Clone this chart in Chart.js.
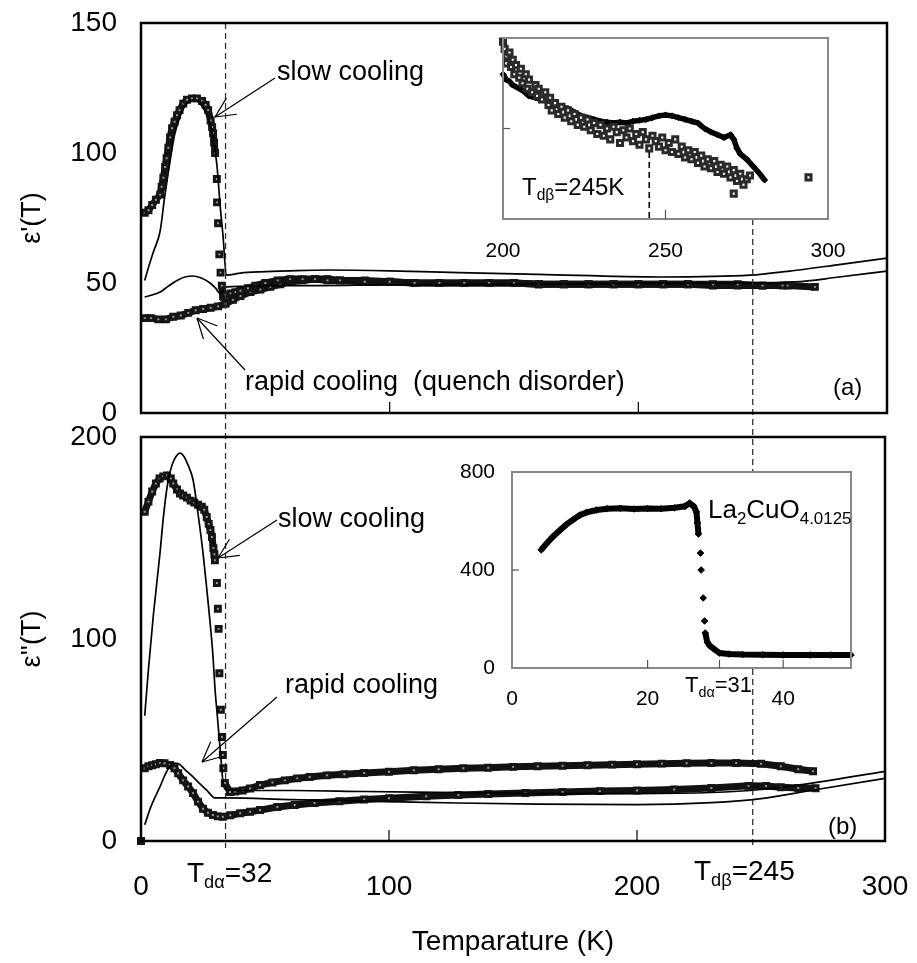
<!DOCTYPE html>
<html>
<head>
<meta charset="utf-8">
<title>eps vs T</title>
<script src="https://cdn.jsdelivr.net/npm/chart.js@4.4.1/dist/chart.umd.min.js"></script>
<style>
body { margin: 0; background: #fff; }
#wrap { position: relative; width: 917px; height: 963px; }
#wrap canvas { position: absolute; left: 0; top: 0; }
</style>
</head>
<body>
<div id="wrap">
<canvas id="mainA" width="917" height="963"></canvas>
<canvas id="mainB" width="917" height="963"></canvas>
<canvas id="insetA" width="917" height="963"></canvas>
<canvas id="insetB" width="917" height="963"></canvas>
</div>
<script>
// data, [T (K), value]

const FONT = "'Liberation Sans', Arial, Helvetica, sans-serif";

// transition markers (dashed lines)
const dashT = [34, 246];

// panel (a) eps'(T)
const slowA = [[1.5,77],[3,78],[4.5,80],[6,82],[7.7,84],[8.3,87],[9,90.5],[9.7,94.6],[10.3,98],[11,102],[11.7,106],[12.5,109.5],[13.5,112],[14.5,114.5],[15.5,116.5],[17,119],[18.5,120.5],[20.5,121],[22.5,121],[24.6,120],[26,118.5],[27,116.5],[28,112.5],[28.6,110],[29,107.6],[29.4,104],[29.8,100],[30.5,90],[30.6,81],[31,73],[31.5,61],[32,54],[32.5,49],[33,45],[34,45.5],[36,46],[38,46.5],[40,47],[43,48],[46,49],[50,50],[55,51],[60,51.5],[65,51.5],[70,51.5],[75,51],[80,51],[90,50.5],[100,50.5],[110,50],[120,50],[130,50],[140,50],[150,50],[160,49.5],[170,49.5],[180,49.5],[190,49.5],[200,49.5],[210,49.5],[220,49.5],[230,49.5],[240,49.5],[250,49],[258,49]];
const rapidA = [[1.5,36.5],[4,36.5],[7,36],[10,36],[13,37],[16,37.5],[19,38.5],[22,39.5],[25,40],[28,40.5],[31,41],[34,42],[37,43.5],[40,45],[44,46.5],[48,47.5],[52,48.5],[56,49.5],[60,50.5],[65,51],[70,51.5],[75,51.5],[80,51],[90,51],[100,50.5],[110,50],[120,50],[130,50],[140,50],[150,50],[160,49.5],[170,49.5],[180,49.5],[190,49.5],[200,49.5],[210,49.5],[220,49.5],[230,49],[240,49],[250,49],[260,49],[271,48.5]];
const fitSlowA = [[1.5,51],[3,56],[5,62],[7.7,70],[9.5,83],[11.7,97],[13.5,107],[15.7,114],[17.5,118],[19.8,120],[21.5,120.3],[23.8,119],[25.5,116.5],[27.8,111.5],[29.5,103],[30.6,94.6],[31.9,79],[33,68],[34.3,53],[40,53.8],[48,54.3],[60,54.7],[75,55],[100,54.7],[128,54],[160,53.3],[209,52.3],[245,53],[260,54.5],[280,57],[300,59.6]];
const fitRapidA = [[1.5,44.6],[4,45.3],[7.7,46.5],[11,48.8],[14.5,51],[18,52.4],[21,52.7],[24,52],[27.8,50],[30,48],[31.9,46],[33,47],[34.6,48.5],[40,48.7],[50,49],[68,49],[100,49.3],[150,49.5],[200,49.8],[240,50],[263,50.4],[280,52.2],[300,54.6]];

// panel (b) eps''(T)
const slowB = [[0,0],[1.5,163],[3,168],[4.5,173],[6,177],[7.5,179.5],[9,180.5],[10.5,181],[12,179.5],[13,177],[14.5,174],[15.7,172],[17,171],[18.5,170],[20,168.5],[21.5,167.5],[23,166.5],[24.5,165.5],[25.5,164],[26.5,160.4],[27.3,157],[28,154],[28.6,150.5],[29.2,145],[29.6,142],[29.8,139],[30.6,127.7],[31,115],[31.3,105],[31.6,83],[32.2,65],[32.6,51.5],[33,42.6],[33.2,36],[33.8,28.7],[35.9,24.3],[38,24.5],[41,25],[44,26],[48,27.7],[53,29],[58,30],[63,31],[68,31.7],[75,32.5],[82,33],[90,33.7],[100,34.3],[110,35],[120,35.5],[130,36],[140,36.3],[150,36.7],[160,37],[170,37.3],[180,37.5],[190,37.8],[200,38],[210,38.3],[220,38.5],[230,38.6],[240,38.6],[250,38.2],[258,37],[265,35.5],[271,34.5]];
const rapidB = [[1.5,36],[3,37],[4.5,37.5],[6,38],[7.7,38.6],[9.5,38.5],[11.7,37.6],[13.5,36],[15,33.5],[17,30],[19,27],[21,23.7],[23,19.5],[25,16],[27,14],[29,12.9],[31,12.2],[33,12],[36,12.7],[40,13.7],[44,14.5],[48,15.3],[55,16.8],[62,17.8],[70,18.8],[80,19.7],[90,20.5],[100,21.2],[115,22.2],[128,22.8],[140,23.3],[155,23.8],[170,24.3],[185,24.7],[200,25],[215,25.5],[230,26.2],[245,27.3],[252,27.2],[258,26.6],[265,26.2],[272,26.1]];
const fitSlowB = [[1.5,62],[3,85],[5,112],[7.7,143],[9,160],[10.5,175],[12,184],[13.5,189],[15.7,192],[17.5,190],[19,186],[21,178.7],[23,162],[25,142.6],[26.5,125],[27.8,109],[29,92],[29.8,76],[30.7,63],[31.5,51.5],[32.3,40],[33,30],[34.6,25.3],[40,25],[61,25],[90,24.5],[128,24],[160,23.5],[200,23.5],[230,24],[250,25.5],[270,28.5],[300,34.5]];
const fitRapidB = [[1.5,8],[4,17],[7.7,27],[10,33.5],[13,38.6],[15.5,38],[18,35],[21,31.7],[24,28],[27,24.5],[29.8,21.3],[35,21.3],[60,20.5],[100,19.5],[128,18.8],[160,18.3],[200,18],[230,19],[250,21],[270,25],[300,31]];

// inset (a), arbitrary units
const insetAOpen = [[200,98],[200.5,94],[201,90],[201,86],[202,92],[202.5,84],[203,88],[203.5,80],[204,85],[205,78],[205.5,83],[206,75],[207,80],[207.5,72],[208,77],[209,70],[210,74],[210.5,68],[211,72],[212,66],[213,70],[214,63],[214.5,67],[215,60],[216,64],[217,58],[218,62],[219,56],[220,60],[221,54],[222,58],[223,52],[224,56],[225,51],[226,55],[227,49],[228,53],[229,47],[230,52],[231,46],[232,50],[233,44],[234,51],[235,48],[236,42],[237,49],[238,45],[239,50],[240,43],[241,47],[242,41],[243,48],[244,44],[245,39],[246,46],[247,43],[248,40],[249,45],[250,38],[251,42],[252,37],[253,44],[254,36],[255,40],[256,34],[257,38],[258,33],[259,37],[260,31],[261,35],[262,29],[263,33],[264,28],[265,32],[266,26],[267,30],[268,25],[269,29],[270,23],[271,27],[272,21],[273,25],[274,19],[275,22],[271,14],[276,24],[294,23]];
const insetAFilled = [[200,80],[201,77],[202,76],[203,74],[204,73],[206,71],[208,68],[210,67],[212,66],[214,65],[216,63],[218,62],[220,61],[222,59],[224,57],[226,56],[228,55],[230,54],[232,53.5],[234,53],[236,53.5],[238,53],[240,54],[242,54.5],[244,55],[246,56],[248,57],[250,57.5],[252,57],[254,56],[256,55],[258,54],[260,53],[262,50],[264,48],[266,46.5],[268,45],[270,46.5],[271,44],[272,39],[273,36],[275,33],[277,29],[279,25],[280.5,21.5]];

// inset (b) La2CuO4.0125
const insetB = [[4.3,482],[5,505],[6,535],[7.1,563],[8,585],[9,605],[10,624],[11,635],[12.5,645],[14,650],[16,652],[18,649],[20,651],[22,650],[24,654],[25.5,660],[26.2,673],[26.8,660],[27.2,637],[27.35,592],[27.5,547],[27.8,469],[27.9,400],[28.2,286],[28.4,192],[28.5,143],[28.8,106],[29.2,90],[29.6,82],[30.6,61],[32,57],[34,55],[37,54],[40,53],[44,53],[47,53],[50,53]];

Chart.defaults.color = '#000';
Chart.defaults.font.family = FONT;

function xy(arr) { return arr.map(p => ({x: p[0], y: p[1]})); }

// don't join points across the steep drops, they are separate squares there
const hideSteep = { borderColor: c => Math.abs(c.p1.y - c.p0.y) > 12 ? 'rgba(0,0,0,0)' : undefined };

function squares(data) {
	return {
		data: xy(data), showLine: true, borderColor: '#111', borderWidth: 7, tension: 0,
		pointStyle: 'rect', pointRadius: 3.5, pointBorderWidth: 3,
		pointBorderColor: '#151515', pointBackgroundColor: '#9a9a9a',
		segment: hideSteep, clip: false
	};
}
function fitLine(data) {
	return {
		data: xy(data), showLine: true, borderColor: '#000', borderWidth: 1.7,
		pointRadius: 0, cubicInterpolationMode: 'monotone', clip: false
	};
}

function line(ctx, x0, y0, x1, y1) {
	ctx.beginPath(); ctx.moveTo(x0, y0); ctx.lineTo(x1, y1); ctx.stroke();
}
function arrow(ctx, x0, y0, x1, y1) {
	line(ctx, x0, y0, x1, y1);
	var ang = Math.atan2(y0 - y1, x0 - x1);
	[-0.45, 0.45].forEach(d => line(ctx, x1, y1, x1 + 22 * Math.cos(ang + d), y1 + 22 * Math.sin(ang + d)));
}
function subText(ctx, parts, x, y, size) {
	ctx.textAlign = 'left'; ctx.textBaseline = 'alphabetic';
	parts.forEach(p => {
		var s = p[1] ? size * 0.65 : size;
		ctx.font = s + 'px ' + FONT;
		ctx.fillText(p[0], x, p[1] ? y + size * 0.22 : y);
		x += ctx.measureText(p[0]).width;
	});
}
function frame(ctx, a, w, col) {
	ctx.lineWidth = w; ctx.strokeStyle = col;
	ctx.strokeRect(a.left, a.top, a.right - a.left, a.bottom - a.top);
}
function innerTicksX(ctx, chart, vals, len) {
	var a = chart.chartArea, x = chart.scales.x;
	vals.forEach(v => line(ctx, x.getPixelForValue(v), a.bottom, x.getPixelForValue(v), a.bottom - len));
}

// fixed axis sizes; label overhang must not shrink the plot box
const fixedW = w => s => { s.width = w; s.paddingTop = 0; s.paddingBottom = 0; };
const fixedH = h => s => { s.height = h; s.paddingLeft = 0; s.paddingRight = 0; };

function baseOpts(pad, scales) {
	return {
		responsive: false, animation: false, devicePixelRatio: 1,
		layout: { autoPadding: false, padding: pad },
		plugins: { legend: { display: false }, tooltip: { enabled: false } },
		scales: scales
	};
}

// ---------- panel (a)
new Chart(document.getElementById('mainA'), {
	type: 'scatter',
	data: { datasets: [fitLine(fitSlowA), fitLine(fitRapidA), squares(slowA), squares(rapidA)] },
	options: baseOpts({ left: 0, top: 23, right: 30, bottom: 550 }, {
		x: { type: 'linear', min: 0, max: 300, display: false },
		y: {
			min: 0, max: 150, afterFit: fixedW(141),
			ticks: { stepSize: 50, padding: 24, font: { size: 28 } },
			grid: { display: false, drawTicks: false }, border: { display: false },
			title: { display: true, text: "\u03b5'(T)", font: { size: 27 }, padding: { top: 16, bottom: 0 } }
		}
	}),
	plugins: [{
		id: 'panelA',
		afterDraw(chart) {
			var ctx = chart.ctx, a = chart.chartArea, x = chart.scales.x;
			ctx.save();
			ctx.setLineDash([6, 4]); ctx.lineWidth = 1.3; ctx.strokeStyle = '#333';
			line(ctx, x.getPixelForValue(dashT[0]), a.top, x.getPixelForValue(dashT[0]), 848);
			line(ctx, x.getPixelForValue(dashT[1]), 219, x.getPixelForValue(dashT[1]), 848);
			ctx.setLineDash([]);
			frame(ctx, a, 2.5, '#000');
			ctx.lineWidth = 1.2;
			innerTicksX(ctx, chart, [100, 200], 11);
			ctx.fillStyle = '#000'; ctx.strokeStyle = '#000';
			subText(ctx, [['slow cooling', 0]], 277, 80, 27);
			arrow(ctx, 275, 78, 215, 117);
			subText(ctx, [['rapid cooling  (quench disorder)', 0]], 245, 390, 27);
			arrow(ctx, 245, 370, 197, 318);
			subText(ctx, [['(a)', 0]], 833, 395, 24);
			ctx.restore();
		}
	}]
});

// ---------- panel (b)
new Chart(document.getElementById('mainB'), {
	type: 'scatter',
	data: { datasets: [fitLine(fitSlowB), fitLine(fitRapidB), squares(slowB), squares(rapidB)] },
	options: baseOpts({ left: 0, top: 437, right: 32, bottom: 0 }, {
		x: {
			type: 'linear', min: 0, max: 300, afterFit: fixedH(122),
			ticks: { stepSize: 100, padding: 29, font: { size: 28 } },
			grid: { display: false, drawTicks: false }, border: { display: false },
			title: { display: true, text: 'Temparature (K)', font: { size: 28 }, padding: { top: 0, bottom: 4 } }
		},
		y: {
			min: 0, max: 200, afterFit: fixedW(141),
			ticks: { stepSize: 100, padding: 24, font: { size: 28 } },
			grid: { display: false, drawTicks: false }, border: { display: false },
			title: { display: true, text: "\u03b5''(T)", font: { size: 27 }, padding: { top: 16, bottom: 0 } }
		}
	}),
	plugins: [{
		id: 'panelB',
		afterDraw(chart) {
			var ctx = chart.ctx, a = chart.chartArea;
			ctx.save();
			frame(ctx, a, 2.5, '#000');
			ctx.lineWidth = 1.2; ctx.strokeStyle = '#000'; ctx.fillStyle = '#000';
			innerTicksX(ctx, chart, [100, 200], 11);
			subText(ctx, [['slow cooling', 0]], 278, 527, 27);
			arrow(ctx, 277, 520, 218, 558);
			subText(ctx, [['rapid cooling', 0]], 285, 693, 27);
			arrow(ctx, 277, 697, 202, 762);
			subText(ctx, [['(b)', 0]], 828, 834, 24);
			subText(ctx, [['T', 0], ['d\u03b1', 1], ['=32', 0]], 187, 882, 28);
			subText(ctx, [['T', 0], ['d\u03b2', 1], ['=245', 0]], 694, 880, 28);
			ctx.restore();
		}
	}]
});

// ---------- inset (a)
new Chart(document.getElementById('insetA'), {
	type: 'scatter',
	data: { datasets: [
		{ data: xy(insetAOpen), pointStyle: 'rect', pointRadius: 3.6, pointBorderWidth: 3,
		  pointBorderColor: '#2a2a2a', pointBackgroundColor: '#fff', clip: false },
		{ data: xy(insetAFilled), showLine: true, borderColor: '#000', borderWidth: 5.5,
		  pointStyle: 'rectRot', pointRadius: 3, pointBorderWidth: 1,
		  pointBackgroundColor: '#000', pointBorderColor: '#000', clip: false }
	] },
	options: baseOpts({ left: 503, top: 38, right: 89, bottom: 0 }, {
		x: {
			type: 'linear', min: 200, max: 300, afterFit: fixedH(744),
			ticks: { stepSize: 50, padding: 20, font: { size: 21 } },
			grid: { display: false, drawTicks: false }, border: { display: false }
		},
		y: { min: 0, max: 100, display: false }
	}),
	plugins: [{
		id: 'insetA',
		beforeDraw(chart) {
			var a = chart.chartArea;
			chart.ctx.fillStyle = '#fff';
			chart.ctx.fillRect(a.left, a.top, a.right - a.left, a.bottom - a.top);
		},
		afterDraw(chart) {
			var ctx = chart.ctx, a = chart.chartArea, x = chart.scales.x, y = chart.scales.y;
			ctx.save();
			frame(ctx, a, 2, '#888');
			ctx.lineWidth = 1.2; ctx.strokeStyle = '#555';
			innerTicksX(ctx, chart, [250], 9);
			line(ctx, a.left, y.getPixelForValue(50), a.left + 7, y.getPixelForValue(50));
			ctx.strokeStyle = '#000'; ctx.setLineDash([6, 4]); ctx.lineWidth = 1.6;
			line(ctx, x.getPixelForValue(245), y.getPixelForValue(37), x.getPixelForValue(245), a.bottom);
			ctx.setLineDash([]);
			ctx.fillStyle = '#000';
			subText(ctx, [['T', 0], ['d\u03b2', 1], ['=245K', 0]], 522, 195, 24);
			ctx.restore();
		}
	}]
});

// ---------- inset (b)
new Chart(document.getElementById('insetB'), {
	type: 'scatter',
	data: { datasets: [
		{ data: xy(insetB), showLine: true, borderColor: '#000', borderWidth: 6, segment: hideSteep,
		  pointStyle: 'rectRot', pointRadius: 3.3, pointBorderWidth: 1,
		  pointBackgroundColor: '#000', pointBorderColor: '#000', clip: false }
	] },
	options: baseOpts({ left: 0, top: 472, right: 66, bottom: 0 }, {
		x: {
			type: 'linear', min: 0, max: 50, afterFit: fixedH(295),
			ticks: { stepSize: 20, includeBounds: false, padding: 19, font: { size: 21 } },
			grid: { display: false, drawTicks: false }, border: { display: false }
		},
		y: {
			min: 0, max: 800, afterFit: fixedW(512),
			ticks: { stepSize: 400, padding: 17, font: { size: 21 } },
			grid: { display: false, drawTicks: false }, border: { display: false }
		}
	}),
	plugins: [{
		id: 'insetB',
		beforeDraw(chart) {
			var a = chart.chartArea;
			chart.ctx.fillStyle = '#fff';
			chart.ctx.fillRect(a.left, a.top, a.right - a.left, a.bottom - a.top);
		},
		afterDraw(chart) {
			var ctx = chart.ctx, a = chart.chartArea, y = chart.scales.y;
			ctx.save();
			frame(ctx, a, 2, '#888');
			ctx.lineWidth = 1.2; ctx.strokeStyle = '#555';
			innerTicksX(ctx, chart, [20, 30.6, 40], 8);
			line(ctx, a.left, y.getPixelForValue(400), a.left + 7, y.getPixelForValue(400));
			ctx.fillStyle = '#000';
			subText(ctx, [['La', 0], ['2', 1], ['CuO', 0], ['4.0125', 1]], 708, 518, 26);
			subText(ctx, [['T', 0], ['d\u03b1', 1], ['=31', 0]], 685, 692, 22);
			ctx.restore();
		}
	}]
});
</script>
</body>
</html>
